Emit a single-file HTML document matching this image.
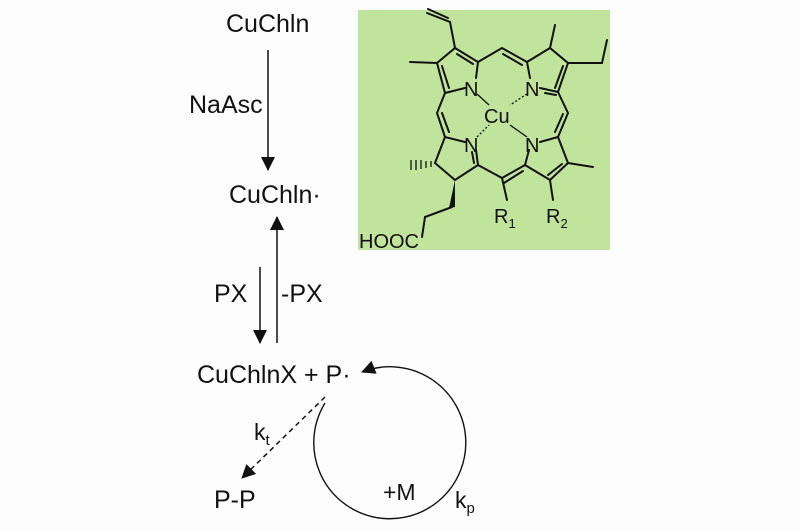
<!DOCTYPE html>
<html><head><meta charset="utf-8"><style>
html,body{margin:0;padding:0;background:#fff;}
svg{display:block;}
text{font-family:"Liberation Sans",Arial,sans-serif;fill:#111;}
</style></head><body>
<svg width="800" height="530" viewBox="0 0 800 530" xmlns="http://www.w3.org/2000/svg">
<defs>
<marker id="ah2" markerWidth="14" markerHeight="14" refX="13" refY="7" orient="auto" markerUnits="userSpaceOnUse">
<path d="M0,0 L14,7 L0,14 z" fill="#111"/></marker>
</defs>
<rect x="0" y="0" width="800" height="530" fill="#fdfdfd"/>
<rect x="358" y="10" width="252" height="240" fill="#c0e49c"/>

<g font-size="25">
<text x="226" y="32">CuChln</text>
<text x="189" y="113">NaAsc</text>
<text x="229" y="203">CuChln·</text>
<text x="214" y="302">PX</text>
<text x="281" y="302">-PX</text>
<text x="197" y="383">CuChlnX + P·</text>
<text x="214" y="508">P-P</text>
</g>
<line x1="268" y1="50" x2="268" y2="170" stroke="#111" stroke-width="1.5" marker-end="url(#ah2)"/>
<line x1="277" y1="343" x2="277" y2="217" stroke="#111" stroke-width="1.5" marker-end="url(#ah2)"/>
<line x1="260" y1="267" x2="260" y2="343" stroke="#111" stroke-width="1.5" marker-end="url(#ah2)"/>
<line x1="325" y1="397" x2="242" y2="478" stroke="#111" stroke-width="1.5" stroke-dasharray="5,4" marker-end="url(#ah2)"/>
<text x="254" y="440" font-size="23">k<tspan font-size="15" dy="5">t</tspan></text>
<path d="M325,403 A76,76 0 1 0 362,372" fill="none" stroke="#111" stroke-width="1.4" marker-end="url(#ah2)"/>
<text x="383" y="500" font-size="23">+M</text>
<text x="455" y="508" font-size="23">k<tspan font-size="15" dy="5">p</tspan></text>

<g stroke="#111" stroke-width="2" fill="none" stroke-linecap="round">
<path d="M465,88 L445,93 L437,63 L455,48 L478,62 L476,78"/>
<line x1="442" y1="66" x2="449" y2="88"/>
<line x1="457" y1="54" x2="473" y2="64"/>
<path d="M478,62 L502,48 L527,62"/>
<line x1="503" y1="54" x2="522" y2="65"/>
<path d="M527,62 L550,48 L568,63 L558,92 L540,88 M527,62 L530,78"/>
<line x1="563" y1="66" x2="555" y2="88"/>
<line x1="545" y1="93" x2="556" y2="95"/>
<path d="M558,92 L568,113 L558,137"/>
<line x1="563" y1="114" x2="555" y2="132"/>
<path d="M558,137 L540,142 M558,137 L568,163 L550,180 L525,165 L529,150"/>
<line x1="562" y1="164" x2="548" y2="175"/>
<path d="M525,165 L502,178 L478,165"/>
<line x1="523" y1="171" x2="504" y2="183"/>
<path d="M478,165 L455,180 L435,163 L445,137 L465,142 M478,165 L476,150"/>
<line x1="472" y1="152" x2="474" y2="163"/>
<path d="M445,93 L437,113 L445,137"/>
<line x1="442" y1="113" x2="449" y2="132"/>
<path d="M455,48 L450,22 L427,13"/>
<line x1="448" y1="18" x2="428" y2="9"/>
<line x1="437" y1="63" x2="410" y2="62"/>
<line x1="550" y1="48" x2="555" y2="25"/>
<path d="M568,63 L602,63 L607,40"/>
<line x1="568" y1="163" x2="593" y2="167"/>
<path d="M452,207 L425,217 L422,237"/>
<line x1="502" y1="178" x2="507" y2="200"/>
<line x1="550" y1="180" x2="553" y2="200"/>
</g>
<g stroke="#111" stroke-width="1.3">
<line x1="431" y1="161" x2="431" y2="167"/><line x1="426" y1="161" x2="426" y2="168"/><line x1="421" y1="160" x2="421" y2="169"/><line x1="416" y1="160" x2="416" y2="170"/><line x1="411" y1="160" x2="411" y2="170"/>
</g>
<path d="M455,180 L449,208 L455,207 z" fill="#111"/>
<g stroke="#111" stroke-width="1.3">
<line x1="477" y1="94" x2="489" y2="105"/>
<line x1="527" y1="94" x2="510" y2="105" stroke-dasharray="2,2"/>
<line x1="477" y1="137" x2="489" y2="125" stroke-dasharray="2,2"/>
<line x1="527" y1="137" x2="510" y2="125"/>
</g>
<g font-size="20">
<text x="464" y="96">N</text>
<text x="525" y="96">N</text>
<text x="464" y="152">N</text>
<text x="525" y="152">N</text>
<text x="484" y="123">Cu</text>
<text x="494" y="223">R<tspan font-size="13" dy="5">1</tspan></text>
<text x="546" y="223">R<tspan font-size="13" dy="5">2</tspan></text>
<text x="359" y="248">HOOC</text>
</g>
</svg>
</body></html>
